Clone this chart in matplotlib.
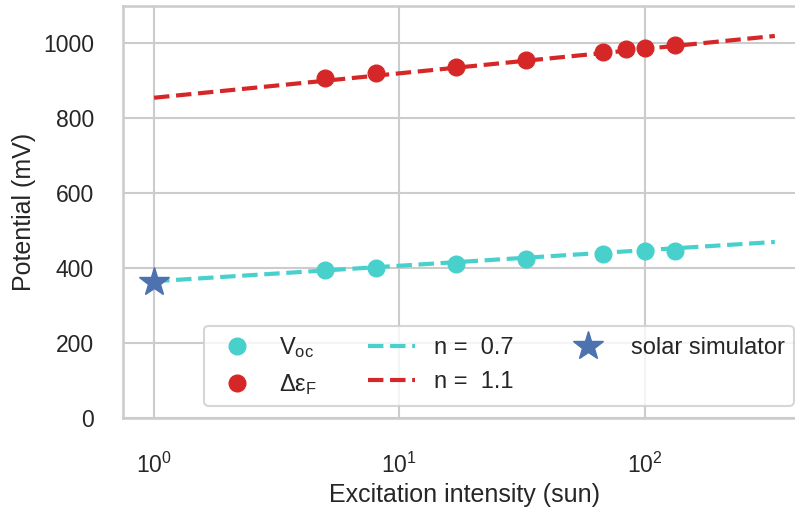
import matplotlib
matplotlib.use("Agg")
import matplotlib.pyplot as plt
import seaborn as sns

# =============================================================================
# Data

intensity_def = [5, 8, 17, 33, 68, 84, 100, 133]
delta_ef = [908, 920, 938, 957, 977, 984, 988, 997]

intensity_voc = [5, 8, 17, 33, 68, 100, 133]
voc = [394, 400, 412, 425, 438, 445, 447]

solar_x = [1]
solar_y = [362]

# ideality-factor fits (straight lines on semilog axes)
fit_x = [1, 340]
fit_voc = [365, 470]
fit_def = [855, 1020]

# =============================================================================
# Style

sns.set_theme(context="talk", style="whitegrid")
plt.rcParams['font.family'] = ['Liberation Sans', 'DejaVu Sans']
plt.rcParams['mathtext.fontset'] = 'custom'
plt.rcParams['mathtext.rm'] = 'Liberation Sans'
plt.rcParams['mathtext.it'] = 'Liberation Sans'
plt.rcParams['mathtext.bf'] = 'Liberation Sans:bold'

c_voc = "#48D1CC"
c_def = "#D62728"
c_star = "#4C72B0"

fig = plt.figure(figsize=(7.95, 5.08), dpi=100)
ax = fig.add_axes([0.1547, 0.1772, 0.859, 0.811])

ax.plot(intensity_voc, voc, 'o', color=c_voc, ms=12, label=r'$\mathregular{V_{oc}}$', zorder=3)
ax.plot(intensity_def, delta_ef, 'o', color=c_def, ms=12, label=r'$\mathregular{Δε_F}$', zorder=3)
ax.plot(fit_x, fit_voc, '--', color=c_voc, lw=3, label='n =  0.7')
ax.plot(fit_x, fit_def, '--', color=c_def, lw=3, label='n =  1.1')
ax.plot(solar_x, solar_y, '*', color=c_star, ms=22, label='solar simulator', zorder=4)

ax.set_xscale('log')
ax.set_xlim(0.747, 455)
ax.set_ylim(0, 1100)
ax.set_yticks([0, 200, 400, 600, 800, 1000])
ax.minorticks_off()
ax.set_xticks([1, 10, 100])
ax.tick_params(axis='x', pad=16)
ax.tick_params(axis='y', pad=12)

ax.set_xlabel('Excitation intensity (sun)', labelpad=4)
ax.set_ylabel('Potential (mV)', labelpad=5)

ax.legend(loc='lower right', ncol=3, frameon=True, fontsize=17,
          columnspacing=2.15, handletextpad=0.8)

fig.savefig("out.png", dpi=100)
